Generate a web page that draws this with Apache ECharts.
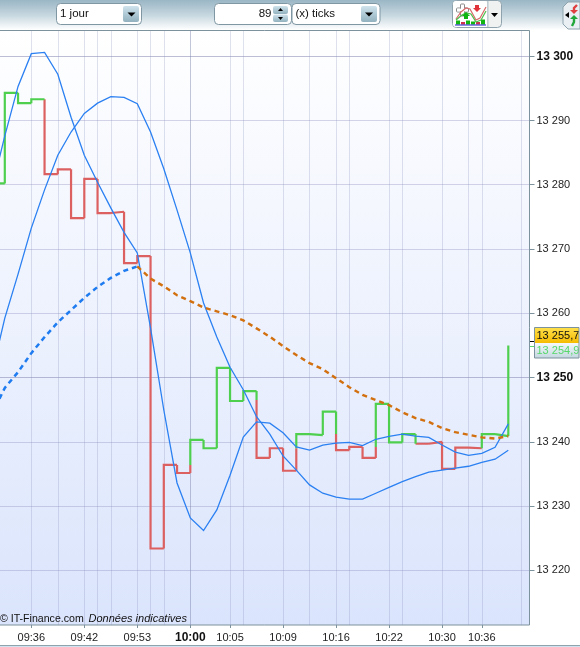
<!DOCTYPE html>
<html><head><meta charset="utf-8">
<style>html,body{margin:0;padding:0;background:#fff}#c{width:580px;height:647px}</style>
<script src="https://cdn.jsdelivr.net/npm/echarts@6/dist/echarts.min.js"></script>
</head><body><div id="c"></div>
<script>
// Bar positions are indexes; index -1 lies just left of the visible area.
const firstIndex = -1;
const stepClose = [13280.2,13294.3,13292.7,13293.3,13281.65,13282.4,13274.8,13280.9,13275.6,13275.8,13267.8,13268.9,13223.4,13236.4,13235.15,13240.3,13239.0,13251.5,13246.35,13247.9,13237.5,13239.0,13235.5,13241.2,13241.05,13244.7,13238.7,13239.2,13237.5,13245.9,13239.9,13241.2,13239.7,13240.0,13235.8,13239.1,13239.0,13241.2,13240.9,13255.0];
const stepOpen = [null,null,null,null,null,null,null,null,null,null,null,null,null,null,null,13236.4,null,null,null,null,13246.5,null,null,13239.0,null,null,13241.2,null,null,13239.2,null,null,13239.7,null,null,null,null,13239.0,null,null];
const stepColor = ['g','g','g','g','r','r','r','r','r','r','r','r','r','r','r','g','g','g','g','g','r','r','r','g','g','g','r','r','r','g','g','g','r','r','r','r','r','g','g','g'];
const fastLine = [13279.2,13287.6,13295.3,13300.4,13300.6,13297.2,13290.5,13284.6,13280.4,13276.4,13272.6,13269.4,13257.7,13244.95,13233.6,13228.15,13226.2,13229.4,13234.8,13240.75,13243.1,13242.9,13241.4,13239.2,13238.7,13239.5,13239.8,13239.9,13239.4,13240.4,13240.85,13241.2,13240.9,13240.7,13239.5,13238.4,13237.9,13238.2,13239.15,13242.8];
const slowLine = [13250.4,13259.25,13266.1,13273.25,13279.2,13284.6,13288.2,13291.1,13292.7,13293.7,13293.6,13292.6,13288.2,13282.5,13276.05,13269.4,13261.6,13256.3,13251.6,13248.1,13243.9,13241.2,13237.8,13235.6,13233.3,13232,13231.4,13231.1,13231.1,13232,13232.9,13233.8,13234.6,13235.3,13235.6,13235.9,13236.2,13236.8,13237.3,13238.7];
const dashedRising = [13244.2,13248.4,13250.85,13253.8,13256.3,13258.6,13260.5,13262.4,13264.1,13265.5,13266.6,13267.3];
const dashedFalling = [13267.3,13265.4,13264.2,13262.8,13261.9,13260.9,13260.3,13259.7,13258.9,13257.65,13256.35,13254.9,13253.5,13252.25,13251.3,13249.9,13248.5,13247.3,13246.5,13245.7,13244.6,13243.7,13243.1,13242.15,13241.5,13241.1,13240.7,13240.5,13240.9];
const dashedFallingStart = 10;
const timeTickIndex = [2,6,10,14,17,21,25,29,33,36];
const timeTickLabels = ['09:36','09:42','09:53','10:00','10:05','10:09','10:16','10:22','10:30','10:36'];
const extraGridIndex = [4,7,8,11,12,18,23,26,30,35,39];
const priceTicks = [13220,13230,13240,13250,13260,13270,13280,13290,13300];
const majorPrices = [13250,13300];
const lastPrice = 13255.7, lastPriceLabel = '13 255,7';
const otherPrice = 13254.9, otherPriceLabel = '13 254,9';

// layout
const PX0 = 4.8, PXSTEP = 13.25, GL = -3, GR = 529.5, GT = 30.5, GB = 625;
const xMin = (GL - PX0) / PXSTEP, xMax = (GR - PX0) / PXSTEP;
const yMin = 13211.5, yMax = 13304;
const font = '"Liberation Sans", Arial, sans-serif';
function chartY(v) { return Math.round(GT + (yMax - v) / (yMax - yMin) * (GB - GT)) + 0.5; }

const withIdx = (arr, start) => arr.map((v, i) => [start + i, v]);
const green = [], red = [];
stepClose.forEach((c, k) => {
  const i = firstIndex + k, last = k === stepClose.length - 1;
  const prev = k ? stepClose[k - 1] : c;
  const open = stepOpen[k] == null ? prev : stepOpen[k];
  const own = stepColor[k] === 'g' ? green : red;
  const prevC = k ? (stepColor[k - 1] === 'g' ? green : red) : own;
  if (open !== prev) { prevC.push([i, prev], [i, open], [NaN, NaN]); }
  own.push([i, open], [i, c]);
  if (!last) own.push([i + 1, c]);
  own.push([NaN, NaN]);
});

const gridLine = c => ({show: true, lineStyle: {color: c, width: 1}});
const hiddenX = (vals, color) => ({
  type: 'value', min: xMin, max: xMax, position: 'top', show: true,
  axisLine: {show: false, onZero: false}, axisLabel: {show: false},
  axisTick: {show: false, customValues: vals}, splitLine: gridLine(color)
});
const line = (data, color, width, extra) => ({
  type: 'line', data, showSymbol: false, symbol: 'none', animation: false, silent: true, z: 5,
  lineStyle: Object.assign({color, width, cap: 'butt', join: 'miter'}, extra || {})
});
const grad = (stops) => ({type: 'linear', x: 0, y: 0, x2: 0, y2: 1, colorStops: stops.map((c, i) => ({offset: i / (stops.length - 1), color: c}))});

const btnGrad = grad(['#cfe3ec', '#92b1bf']);
const arrow = (cx, cy, w, h) => ({type: 'polygon', silent: true, z: 20, shape: {points: [[cx - w / 2, cy], [cx + w / 2, cy], [cx, cy + h]]}, style: {fill: '#000'}});
const box = (x, y, w, h, r, fill, stroke) => ({type: 'rect', silent: true, z: 19, shape: {x, y, width: w, height: h, r}, style: {fill, stroke: stroke || null, lineWidth: stroke ? 1 : 0}});
const txt = (x, y, text, o) => ({type: 'text', silent: true, z: 21, x, y, style: Object.assign({text, font: '11.5px ' + font, fill: '#111', textVerticalAlign: 'middle'}, o || {})});
const poly = (pts, stroke, w) => ({type: 'polyline', silent: true, z: 21, shape: {points: pts}, style: {stroke, lineWidth: w || 1, fill: null}});

const chrome = [
  box(0, 0, 580, 30, 0, grad(['#9ab6c5', '#c6d7df', '#ffffff'])),
  box(0, 645, 580, 1, 0, '#8fa3ad'),
  box(0, 646, 580, 1, 0, '#cfe4f0'),
  // period selector
  box(56.5, 3.5, 85, 21, 4, '#fff', '#7f97a3'), box(123, 6, 16, 16, 2, btnGrad), arrow(131.5, 12.5, 8, 4),
  txt(60, 14, '1 jour'),
  // tick count
  box(214.5, 3.5, 77, 21, 4, '#fff', '#7f97a3'), box(273, 6, 15, 8, 2, btnGrad), box(273, 14.5, 15, 7.5, 2, btnGrad),
  {type: 'polygon', silent: true, z: 20, shape: {points: [[278, 11], [283, 11], [280.5, 8]]}, style: {fill: '#000'}},
  arrow(280.5, 17, 5, 3),
  txt(271.5, 14, '89', {textAlign: 'right'}),
  // unit selector
  box(292, 3.5, 88, 21, 4, '#fff', '#7f97a3'), box(361, 6, 16, 16, 2, btnGrad), arrow(369, 12.5, 8, 4),
  txt(295.5, 14, '(x) ticks'),
  // indicator button
  box(452.5, 0.5, 49, 27, 4, '#f0f2f2', '#8ea3ad'), box(453, 1, 34.5, 26, 3, '#fff'),
  box(487.5, 1, 0.8, 26, 0, '#8ea3ad'), arrow(494.5, 13, 7, 4),
  poly([[456, 19], [461, 12], [466, 8], [470, 9], [476, 20], [480, 18], [486, 7]], '#d96a6a', 1.2),
  poly([[456, 20], [462, 15], [466, 13], [471, 14], [476, 22], [481, 20], [486, 11]], '#4bbf4b', 1.2),
  box(456.5, 8, 12, 4, 1, '#fff', '#8a8a8a'), box(460.5, 4, 4, 12, 1, '#fff', '#8a8a8a'), box(457.2, 8.7, 10.6, 2.6, 0, '#fff'),
  box(456, 20.5, 4, 4, 0, '#11b511'), box(461, 22, 4, 2.5, 0, '#d0304f'), box(466, 20.5, 4, 4, 0, '#11b511'), box(471, 21.5, 4, 3, 0, '#11b511'), box(476, 22, 4, 2.5, 0, '#d0304f'), box(481, 19.5, 4, 5, 0, '#11b511'),
  box(455, 24.5, 31, 1, 0, '#1a1ac8'),
  {type: 'polygon', silent: true, z: 21, shape: {points: [[464, 19], [468, 19], [468, 16], [470, 16], [466, 12], [462, 16], [464, 16]]}, style: {fill: '#11b511'}},
  {type: 'polygon', silent: true, z: 21, shape: {points: [[475, 5], [479, 5], [479, 8], [481, 8], [477, 12], [473, 8], [475, 8]]}, style: {fill: '#e0333a'}},
  // navigation tab
  {type: 'polygon', silent: true, z: 19, shape: {points: [[580, 2], [568, 2], [563, 7], [563, 24], [568, 29], [580, 29]]}, style: {fill: '#e9eff2', stroke: '#8ea3ad', lineWidth: 1}},
  {type: 'polygon', silent: true, z: 21, shape: {points: [[565, 15], [569, 12], [569, 18]]}, style: {fill: '#000'}},
  poly([[577, 5], [574, 8], [574, 12]], '#e04040', 2.4), poly([[574, 18], [574, 22], [572, 26]], '#22a83a', 2.4),
  {type: 'polygon', silent: true, z: 21, shape: {points: [[570, 10], [578, 10], [574, 14]]}, style: {fill: '#e04040'}},
  {type: 'polygon', silent: true, z: 21, shape: {points: [[570, 19], [578, 19], [574, 15]]}, style: {fill: '#22a83a'}},
  // copyright
  {type: 'text', silent: true, z: 21, x: 0, y: 619, style: {text: '© IT-Finance.com', font: '10.6px ' + font, fill: '#111', textVerticalAlign: 'middle'}},
  {type: 'text', silent: true, z: 21, x: 88.5, y: 619, style: {text: 'Données indicatives', font: 'italic 11px ' + font, fill: '#111', textVerticalAlign: 'middle'}},
  // price flags
  box(534.5, 327.5, 44.5, 15.5, 0, grad(['#ffe14d', '#f6bb00'])),
  box(534.5, 343, 44.5, 15, 0, grad(['#f4f9fb', '#c4d7e0'])),
  {type: 'rect', silent: true, z: 22, shape: {x: 534.5, y: 327.5, width: 44.5, height: 30.5}, style: {fill: null, stroke: '#7c929d', lineWidth: 1}},
  txt(536.5, 335.5, lastPriceLabel, {font: '11px ' + font, fill: '#111'}),
  txt(536.5, 351, otherPriceLabel, {font: '11px ' + font, fill: '#56d86a'}),
  {type: 'line', silent: true, z: 21, shape: {x1: 530, y1: chartY(lastPrice), x2: 535, y2: chartY(lastPrice)}, style: {stroke: '#000', lineWidth: 1}},
  {type: 'line', silent: true, z: 21, shape: {x1: 530, y1: chartY(otherPrice), x2: 535, y2: chartY(otherPrice)}, style: {stroke: '#56d86a', lineWidth: 1}}
];

const chart = echarts.init(document.getElementById('c'), null, {renderer: 'canvas'});
chart.setOption({
  animation: false,
  backgroundColor: '#fff',
  grid: {
    show: true, left: GL, top: GT, width: GR - GL, height: GB - GT,
    borderColor: '#7c929d', borderWidth: 1,
    backgroundColor: grad(['#ffffff', '#dae4fc']),
    containLabel: false, outerBoundsMode: 'none'
  },
  xAxis: [
    {
      type: 'value', min: xMin, max: xMax, position: 'bottom',
      axisLine: {show: false, onZero: false},
      axisTick: {show: true, length: 3, lineStyle: {color: '#7c929d'}, customValues: timeTickIndex},
      axisLabel: {
        show: true, margin: 7, customValues: timeTickIndex, hideOverlap: false,
        fontFamily: font, fontSize: 11, color: '#222',
        formatter: v => {
          const s = timeTickLabels[timeTickIndex.indexOf(Math.round(v))];
          return Math.round(v) === 14 ? '{b|' + s + '}' : s;
        },
        rich: {b: {fontFamily: font, fontSize: 12, fontWeight: 'bold', color: '#111'}}
      },
      splitLine: gridLine('rgba(130,140,185,0.26)')
    },
    hiddenX(extraGridIndex, 'rgba(130,140,185,0.26)'),
    hiddenX([14], 'rgba(110,120,160,0.25)')
  ],
  yAxis: [
    {
      type: 'value', min: yMin, max: yMax, position: 'right',
      axisLine: {show: false, onZero: false},
      axisTick: {show: true, length: 5, lineStyle: {color: '#7c929d'}, customValues: priceTicks},
      axisLabel: {
        show: true, margin: 7, customValues: priceTicks, hideOverlap: false,
        fontFamily: font, fontSize: 11, color: '#222',
        formatter: v => {
          const s = String(v).replace(/^(\d+)(\d{3})$/, '$1 $2');
          return majorPrices.includes(v) ? '{b|' + s + '}' : s;
        },
        rich: {b: {fontFamily: font, fontSize: 12, fontWeight: 'bold', color: '#111'}}
      },
      splitLine: gridLine('rgba(130,130,185,0.33)')
    },
    {
      type: 'value', min: yMin, max: yMax, position: 'left',
      axisLine: {show: false, onZero: false}, axisLabel: {show: false},
      axisTick: {show: false, customValues: majorPrices},
      splitLine: gridLine('rgba(120,120,160,0.25)')
    }
  ],
  series: [
    line(red, '#dc6060', 2.2),
    line(green, '#4ed04e', 2.2),
    line(withIdx(slowLine, firstIndex), '#2b80f2', 1.3),
    line(withIdx(fastLine, firstIndex), '#2b80f2', 1.3),
    line(withIdx(dashedRising, firstIndex), '#1f7cf0', 2.5, {type: [5, 4]}),
    line(withIdx(dashedFalling, dashedFallingStart), '#d2700f', 2.4, {type: [5, 4]})
  ],
  graphic: {elements: chrome}
});
</script></body></html>
